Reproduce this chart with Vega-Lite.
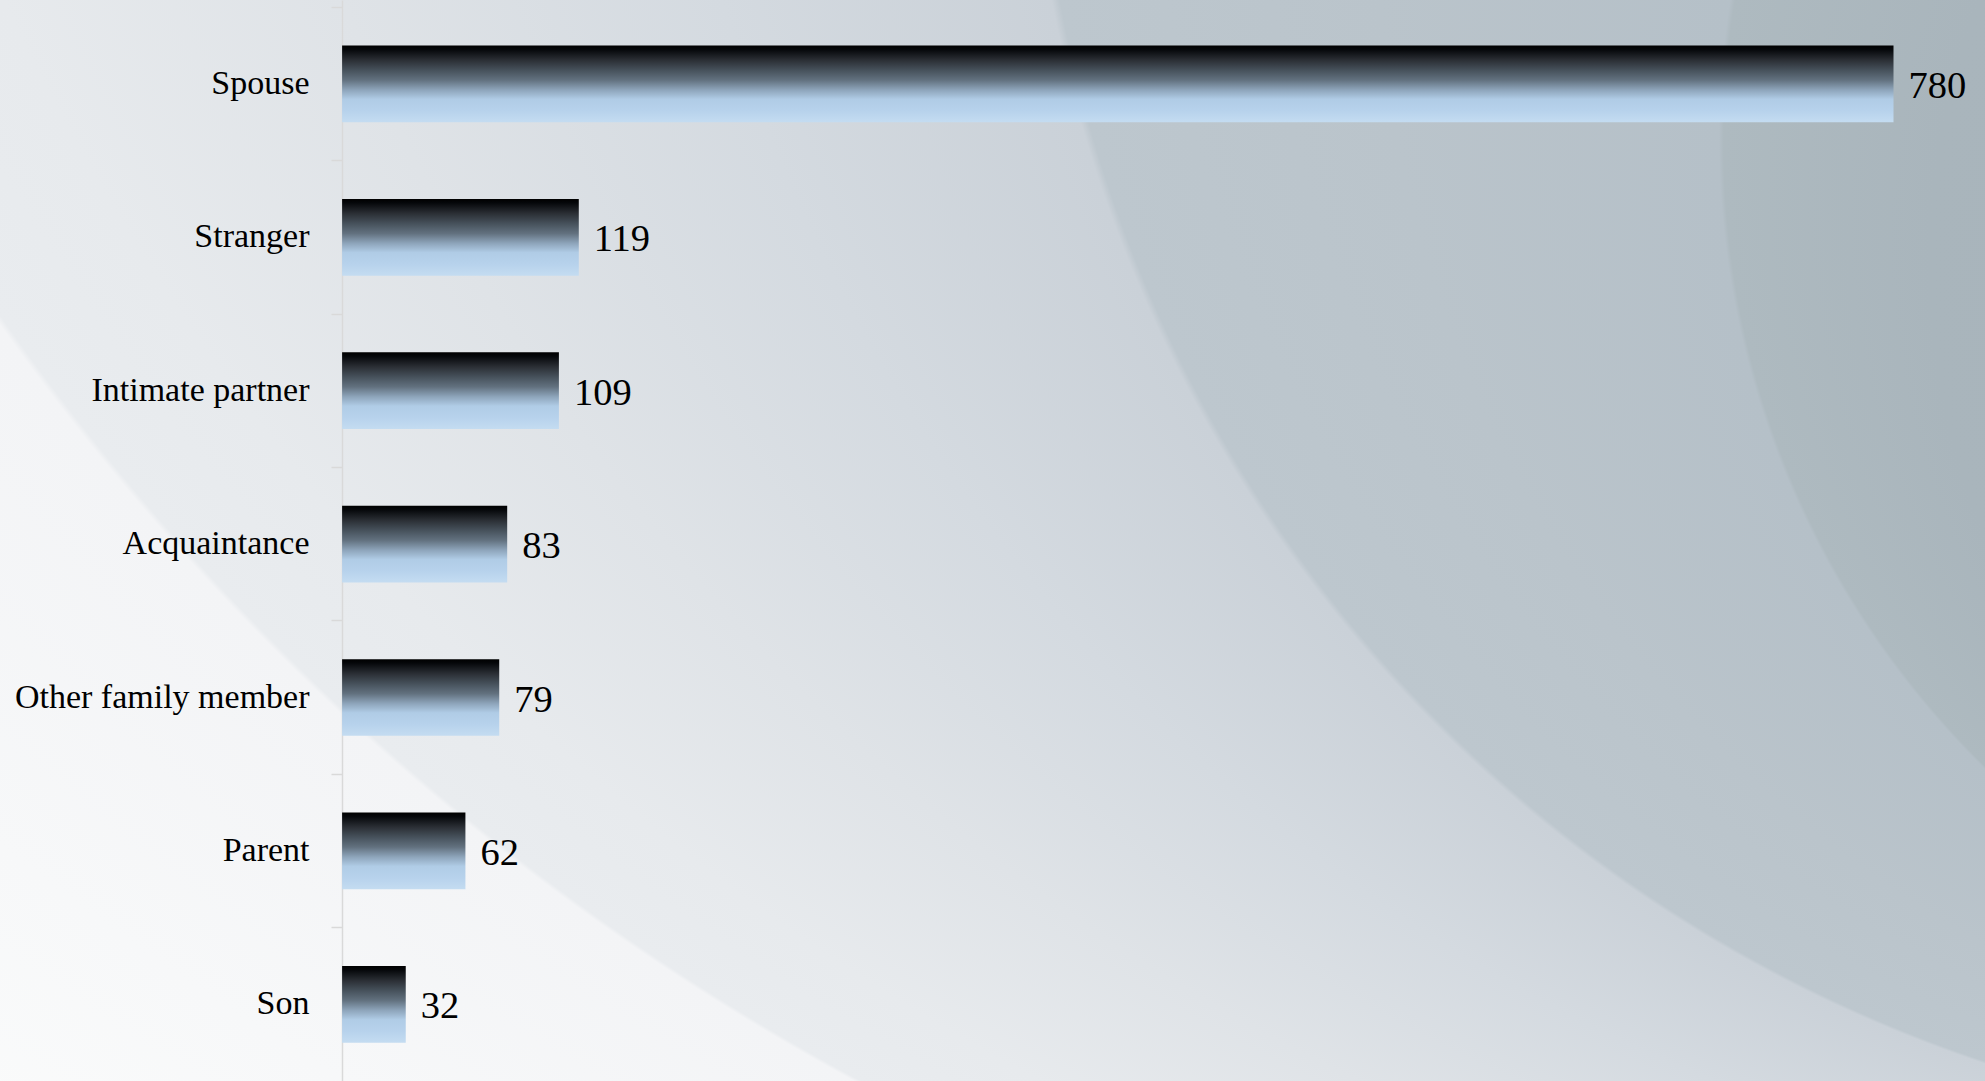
{
  "$schema": "https://vega.github.io/schema/vega-lite/v6.json",
  "width": 1985,
  "height": 1081,
  "padding": 0,
  "autosize": {"type": "none"},
  "background": "#eef0f2",
  "view": {
    "stroke": null,
    "fill": {
      "gradient": "radial",
      "x1": 1.461, "y1": 0.6423, "r1": 0,
      "x2": 0.867, "y2": -0.7113, "r2": 1.7421,
      "stops": [
        {"offset": 0, "color": "#a3b0b6"},
        {"offset": 0.209, "color": "#a9b5bc"},
        {"offset": 0.2537, "color": "#aebac0"},
        {"offset": 0.2547, "color": "#b5c0c8"},
        {"offset": 0.328, "color": "#bac4cb"},
        {"offset": 0.402, "color": "#bdc7ce"},
        {"offset": 0.404, "color": "#cad1d8"},
        {"offset": 0.485, "color": "#d4dae0"},
        {"offset": 0.582, "color": "#dfe3e7"},
        {"offset": 0.672, "color": "#e7eaed"},
        {"offset": 0.723, "color": "#e9ecef"},
        {"offset": 0.725, "color": "#f3f4f6"},
        {"offset": 0.873, "color": "#f7f8f9"},
        {"offset": 1, "color": "#fafbfb"}
      ]
    }
  },
  "data": {
    "values": [
      {"relationship": "Spouse", "count": 780},
      {"relationship": "Stranger", "count": 119},
      {"relationship": "Intimate partner", "count": 109},
      {"relationship": "Acquaintance\u00a0", "count": 83},
      {"relationship": "Other family member", "count": 79},
      {"relationship": "Parent", "count": 62},
      {"relationship": "Son", "count": 32}
    ]
  },
  "encoding": {
    "y": {
      "field": "relationship",
      "type": "nominal",
      "sort": "-x",
      "scale": {"paddingInner": 0.5, "paddingOuter": 0.2735, "align": 0.543},
      "axis": {
        "title": null,
        "orient": "left",
        "offset": -342,
        "domainColor": "#d9d9d9",
        "domainWidth": 1.5,
        "tickColor": "#d9d9d9",
        "tickWidth": 1.5,
        "tickSize": 11,
        "bandPosition": -0.5,
        "labelFont": "Liberation Serif",
        "labelFontSize": 34,
        "labelColor": "#000000",
        "labelPadding": 22,
        "labelLimit": 0
      }
    },
    "x": {
      "field": "count",
      "type": "quantitative",
      "scale": {"domain": [-172, 826], "nice": false, "zero": false},
      "axis": null
    }
  },
  "layer": [
    {
      "mark": {
        "type": "bar",
        "color": {
          "gradient": "linear",
          "x1": 0, "y1": 0, "x2": 0, "y2": 1,
          "stops": [
            {"offset": 0, "color": "#000000"},
            {"offset": 0.05, "color": "#05070a"},
            {"offset": 0.19, "color": "#2b2f35"},
            {"offset": 0.32, "color": "#46515b"},
            {"offset": 0.45, "color": "#62717f"},
            {"offset": 0.58, "color": "#8ea5bb"},
            {"offset": 0.7, "color": "#b0cce6"},
            {"offset": 0.85, "color": "#b7d2ec"},
            {"offset": 1, "color": "#c4dcf1"}
          ]
        }
      }
    },
    {
      "mark": {
        "type": "text",
        "align": "left",
        "baseline": "middle",
        "dx": 15,
        "dy": 2,
        "font": "Liberation Serif",
        "fontSize": 38.5,
        "color": "#000000"
      },
      "encoding": {"text": {"field": "count", "type": "quantitative"}}
    }
  ]
}
